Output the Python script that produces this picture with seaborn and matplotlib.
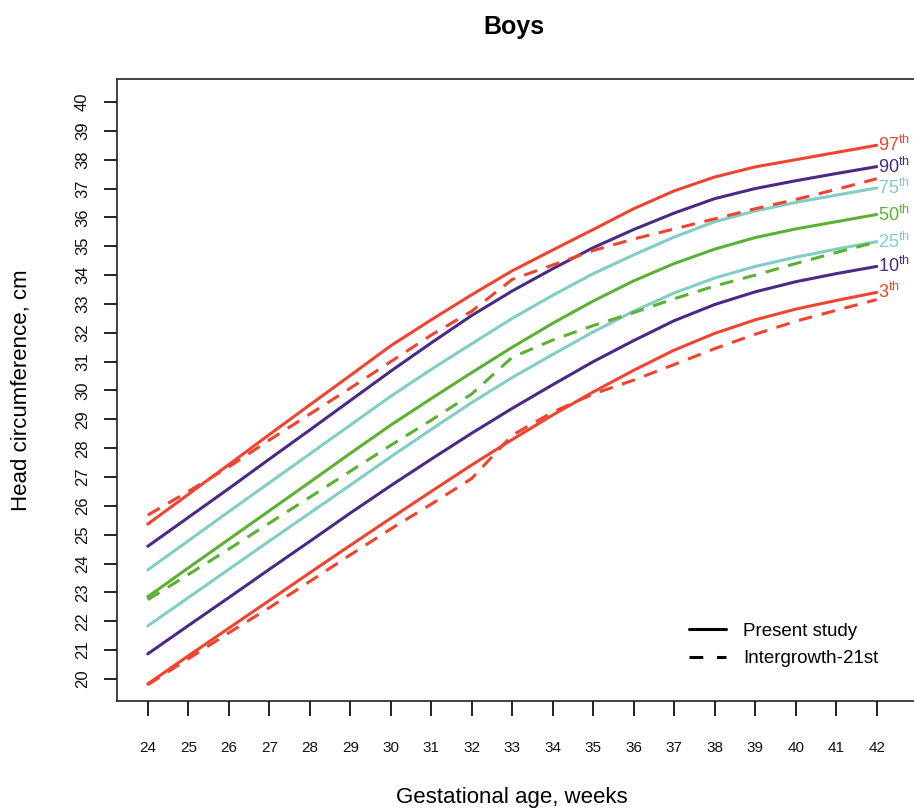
import matplotlib
matplotlib.use('Agg')
import matplotlib.pyplot as plt
from matplotlib.lines import Line2D
import seaborn as sns

# Gestational age (weeks)
weeks = list(range(24, 43))

# Present study percentiles (head circumference, cm)
p97 = [25.37, 26.40, 27.43, 28.47, 29.50, 30.52, 31.55, 32.45, 33.32, 34.15,
       34.87, 35.58, 36.30, 36.92, 37.40, 37.75, 38.00, 38.25, 38.50]
p90 = [24.60, 25.60, 26.60, 27.62, 28.63, 29.65, 30.67, 31.65, 32.60, 33.45,
       34.22, 34.95, 35.58, 36.15, 36.65, 37.00, 37.27, 37.52, 37.76]
p75 = [23.78, 24.79, 25.80, 26.80, 27.80, 28.80, 29.80, 30.73, 31.62, 32.50,
       33.30, 34.05, 34.70, 35.32, 35.85, 36.22, 36.52, 36.77, 37.02]
p50 = [22.85, 23.85, 24.84, 25.83, 26.82, 27.82, 28.80, 29.72, 30.62, 31.50,
       32.33, 33.10, 33.80, 34.40, 34.90, 35.30, 35.60, 35.85, 36.10]
p25 = [21.84, 22.82, 23.80, 24.78, 25.75, 26.72, 27.70, 28.65, 29.58, 30.45,
       31.25, 32.03, 32.75, 33.38, 33.90, 34.30, 34.62, 34.90, 35.16]
p10 = [20.87, 21.85, 22.82, 23.80, 24.77, 25.75, 26.70, 27.62, 28.52, 29.38,
       30.20, 31.00, 31.73, 32.42, 32.98, 33.42, 33.77, 34.05, 34.30]
p3 = [19.83, 20.80, 21.76, 22.72, 23.68, 24.63, 25.57, 26.50, 27.42, 28.30,
      29.15, 29.95, 30.70, 31.40, 31.98, 32.45, 32.82, 33.12, 33.40]

# Intergrowth-21st percentiles
ig97 = [25.68, 26.50, 27.35, 28.28, 29.18, 30.08, 31.00, 31.92, 32.75, 33.85,
        34.35, 34.85, 35.25, 35.60, 35.95, 36.30, 36.62, 36.97, 37.34]
ig50 = [22.75, 23.62, 24.50, 25.40, 26.30, 27.20, 28.10, 28.97, 29.88, 31.15,
        31.75, 32.25, 32.70, 33.18, 33.62, 34.00, 34.40, 34.78, 35.15]
ig3 = [19.80, 20.70, 21.60, 22.47, 23.38, 24.30, 25.20, 26.06, 26.95, 28.45,
       29.25, 29.88, 30.36, 30.90, 31.45, 31.95, 32.40, 32.78, 33.15]

labels = ['97', '90', '75', '50', '25', '10', '3']

red = '#EE4430'
purple = '#4A2A84'
teal = '#82CDC5'
green = '#5CB034'

present = [p97, p90, p75, p50, p25, p10, p3]
present_colors = [red, purple, teal, green, teal, purple, red]
intergrowth = [ig97, ig50, ig3]
ig_colors = [red, green, red]

sns.set_style('ticks')
plt.rcParams['font.family'] = ['Liberation Sans', 'DejaVu Sans']
plt.rcParams['mathtext.fontset'] = 'custom'
plt.rcParams['mathtext.rm'] = 'Liberation Sans'
plt.rcParams['text.color'] = 'black'

fig = plt.figure(figsize=(9.14, 8.11), dpi=100)
ax = fig.add_axes([117 / 914, 1 - 701 / 811, (918 - 117) / 914, (701 - 79) / 811])

lw = 2.2
for vals, col in zip(present, present_colors):
    sns.lineplot(x=weeks, y=vals, color=col, lw=lw, ax=ax)
for vals, col in zip(intergrowth, ig_colors):
    sns.lineplot(x=weeks, y=vals, color=col, lw=lw, linestyle=(0, (4.5, 3.2)), ax=ax)

# percentile labels at the right end
for vals, col, lab in zip(present, present_colors, labels):
    ax.text(weeks[-1] + 0.04, vals[-1] - 0.21, lab + r'$^{\mathrm{th}}$', color=col,
            fontsize=13, ha='left', va='baseline', clip_on=False)

ax.set_xlim(23.24, 43.02)
ax.set_ylim(19.237, 40.797)
ax.set_xticks(weeks)
ax.set_yticks(range(20, 41))
ax.set_xlabel('')
ax.set_ylabel('')

for s in ax.spines.values():
    s.set_visible(True)
    s.set_color('#222222')
    s.set_linewidth(1.2)

ax.tick_params(axis='x', bottom=True, direction='out', length=11, width=1.3, pad=18,
               labelsize=11, colors='#111111')
ax.tick_params(axis='y', left=True, direction='out', length=9.5, width=1.3, pad=10,
               labelsize=12, colors='#111111', labelrotation=90)
for t in ax.get_yticklabels():
    t.set_va('center')

handles = [Line2D([], [], color='black', lw=lw),
           Line2D([], [], color='black', lw=lw, linestyle=(0, (4.5, 4.5)))]
ax.legend(handles, ['Present study', 'Intergrowth-21st'], loc='center left',
          bbox_to_anchor=((689 - 117) / 801, (701 - 645) / 622), frameon=False,
          fontsize=13.5, handlelength=2.0, handletextpad=0.9, labelspacing=0.55,
          borderpad=0, borderaxespad=0)

fig.text(514 / 914, 1 - 34 / 811, 'Boys', ha='center', va='baseline',
         fontsize=18, fontweight='bold')
fig.text(512 / 914, 1 - 798 / 811, 'Gestational age, weeks', ha='center',
         va='center', fontsize=16)
fig.text(22 / 914, 1 - 390 / 811, 'Head circumference, cm', ha='center',
         va='center', rotation=90, fontsize=16)

fig.savefig('out.png', dpi=100)
